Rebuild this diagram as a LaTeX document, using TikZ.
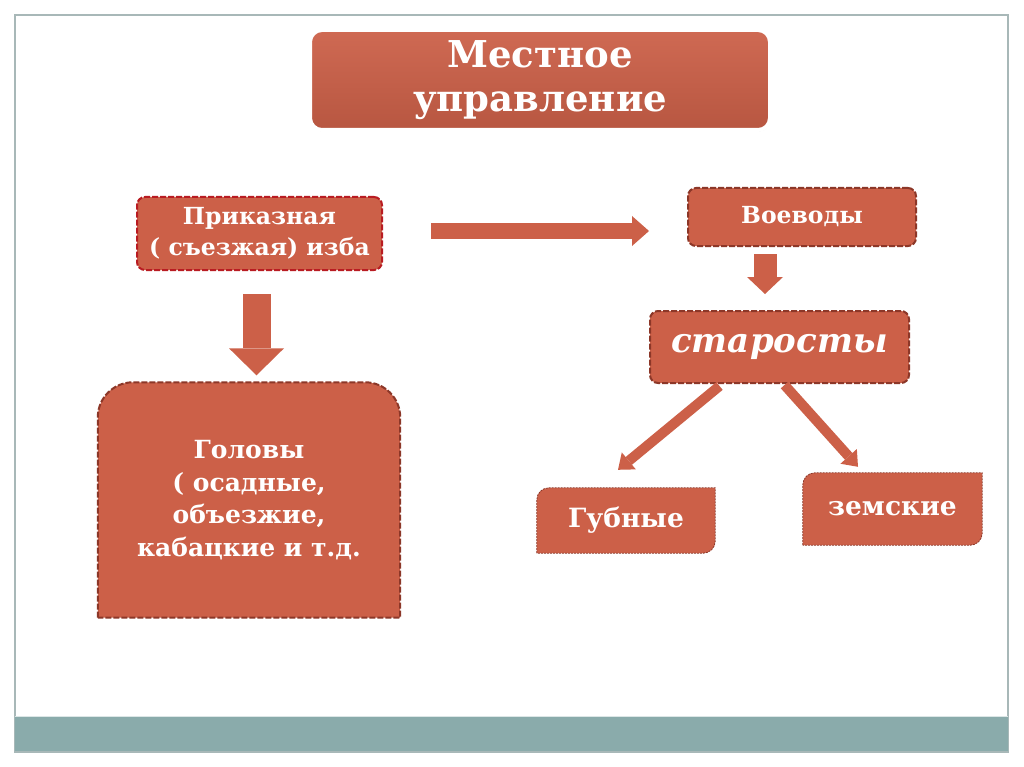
\documentclass[tikz,border=0pt]{standalone}
\usepackage{fontspec}
\setmainfont{DejaVu Serif}
\usetikzlibrary{arrows.meta,positioning,shadows,backgrounds}

\definecolor{boxfill}{RGB}{204,96,72}
\definecolor{boxedge}{RGB}{140,55,40}
\definecolor{boxred}{RGB}{185,28,34}
\definecolor{framegray}{RGB}{168,184,184}
\definecolor{barteal}{RGB}{138,171,171}

\begin{document}
\begin{tikzpicture}[
  x=1pt, y=-1pt,
  text=white,
  box/.style={draw=boxedge,line width=2pt,dash pattern=on 6pt off 2pt,fill=boxfill,rounded corners=8pt,align=center,inner sep=0pt},
  plain/.style={align=center,inner sep=0pt},
  edge/.style={draw=boxedge,line width=0.8pt,dash pattern=on 2pt off 1pt,fill=boxfill},
  arrow/.style n args={3}{draw=boxfill,line width=#1,-{Triangle[width=#2,length=#3,line width=0pt]}},
]
\useasboundingbox (0,0) rectangle (1024,767);

\node[draw=white,line width=4pt,rounded corners=12pt,top color=boxfill!94!white,bottom color=boxfill!90!black,
  drop shadow={shadow xshift=0.5pt,shadow yshift=-1.5pt,opacity=0.35},
  minimum width=460pt,minimum height=100pt,align=center,
  font=\fontsize{37}{44}\selectfont\bfseries] (title) at (540,80) {Местное\\управление};

\node[box,draw=boxred,minimum width=245pt,minimum height=73pt,font=\fontsize{23.5}{31}\selectfont\bfseries]
  (prikaz) at (259.5,233.5) {Приказная\\( съезжая) изба};
\node[box,minimum width=228pt,minimum height=58pt,font=\fontsize{23.5}{28}\selectfont\bfseries]
  (voev) at (802,217) {Воеводы};
\node[box,minimum width=259pt,minimum height=72pt,font=\fontsize{34}{40}\selectfont\bfseries\itshape]
  (star) at (779.5,347) {старосты};

\node[plain,minimum width=302pt,minimum height=235pt,font=\fontsize{25}{32.5}\selectfont\bfseries]
  (golovy) at (249,500) {Головы\\( осадные,\\объезжие,\\кабацкие и т.д.};
\node[plain,minimum width=178pt,minimum height=65pt,font=\fontsize{26.5}{30}\selectfont\bfseries]
  (gub) at (626,520.5) {Губные};
\node[plain,minimum width=179pt,minimum height=72pt,font=\fontsize{26.5}{30}\selectfont\bfseries]
  (zem) at (892.5,509) {земские};

\begin{scope}[on background layer]
  \fill[white] (0,0) rectangle (1024,767);
  \draw[framegray,line width=1.2pt] (15,15) rectangle (1008,752);
  \fill[barteal] (15,716) rectangle (1008,751);
  \draw[white!70!barteal,line width=1pt] (15,716) -- (1008,716);
  % boxes with their own corners
  \filldraw[box,rounded corners=0pt] (golovy.south west) -- ([yshift=-35pt]golovy.north west)
    arc[start angle=180,end angle=90,radius=35pt] -- ([xshift=-35pt]golovy.north east)
    arc[start angle=90,end angle=0,radius=35pt] -- (golovy.south east) -- cycle;
  \filldraw[edge] (gub.south west) -- ([yshift=-12pt]gub.north west)
    arc[start angle=180,end angle=90,radius=12pt] -- (gub.north east) -- ([yshift=12pt]gub.south east)
    arc[start angle=0,end angle=-90,radius=12pt] -- cycle;
  \filldraw[edge] (zem.south west) -- ([yshift=-12pt]zem.north west)
    arc[start angle=180,end angle=90,radius=12pt] -- (zem.north east) -- ([yshift=12pt]zem.south east)
    arc[start angle=0,end angle=-90,radius=12pt] -- cycle;
\end{scope}

\draw[arrow={15pt}{30pt}{17pt},shorten <=48pt,shorten >=38pt]
  ([yshift=2.5pt]prikaz.east) -- ([yshift=2.5pt]prikaz.east -| voev.west);
\draw[arrow={28pt}{55pt}{27pt},shorten <=23pt,shorten >=7pt]
  ([xshift=-3pt]prikaz.south) -- ([xshift=-3pt]prikaz.south |- golovy.north);
\draw[arrow={23pt}{36pt}{17pt},shorten <=7pt,shorten >=16pt]
  ([xshift=-37pt]voev.south) -- ([xshift=-37pt]voev.south |- star.north);
\draw[arrow={10pt}{22pt}{14pt}] ([xshift=-60pt,yshift=-2pt]star.south) -- ([xshift=-8pt,yshift=18pt]gub.north);
\draw[arrow={10pt}{22pt}{14pt}] ([xshift=5pt,yshift=-1pt]star.south) -- ([xshift=-34.5pt,yshift=6pt]zem.north);

\end{tikzpicture}
\end{document}
